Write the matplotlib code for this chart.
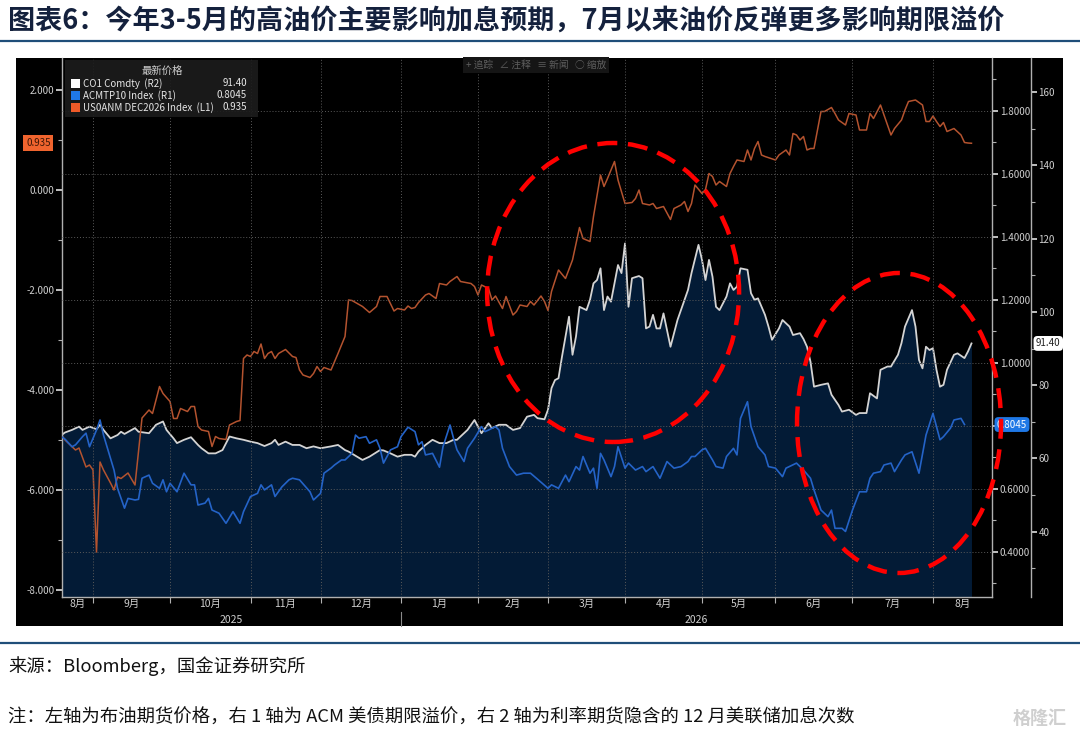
import numpy as np
import matplotlib
matplotlib.use('Agg')
import matplotlib.pyplot as plt
from matplotlib.patches import Rectangle, Ellipse
from matplotlib.lines import Line2D
from matplotlib.ticker import FixedLocator, FuncFormatter, NullFormatter
from matplotlib.transforms import blended_transform_factory

plt.rcParams['font.family'] = ['Noto Sans CJK SC', 'DejaVu Sans']

# x values are trading days counted from 2025-09-01 (Bloomberg-style business-day axis)
START = '2025-09-01'

# US0ANM DEC2026 Index (L1): implied number of hikes by Dec 2026
us0anm = [
    (-9, -4.90), (-8, -5.00), (-5, -5.20), (-4, -5.16), (-2, -5.54), (-1, -5.50), (0, -5.60),
    (1, -7.24), (2, -5.44), (3, -5.60), (5, -5.86), (6, -6.00), (7, -5.74), (8, -5.77),
    (10, -5.66), (12, -5.90), (14, -4.56), (16, -4.40), (17, -4.47), (19, -3.93), (20, -4.07),
    (22, -4.23), (23, -4.57), (24, -4.57), (25, -4.37), (27, -4.43), (28, -4.33), (29, -4.33),
    (30, -4.73), (31, -4.80), (33, -4.83), (34, -5.13), (35, -4.93), (36, -4.97), (38, -4.99),
    (39, -4.70), (41, -4.63), (42, -4.61), (43, -3.37), (44, -3.30), (45, -3.33), (46, -3.23),
    (47, -3.27), (48, -3.08), (49, -3.37), (50, -3.27), (51, -3.23), (52, -3.37), (53, -3.27),
    (55, -3.19), (57, -3.33), (58, -3.35), (59, -3.60), (60, -3.70), (62, -3.75), (63, -3.67),
    (64, -3.53), (65, -3.63), (66, -3.55), (68, -3.60), (70, -3.27), (72, -2.93), (73, -2.20),
    (74, -2.21), (77, -2.33), (79, -2.45), (81, -2.33), (82, -2.13), (84, -2.13), (86, -2.42),
    (87, -2.37), (89, -2.40), (90, -2.32), (91, -2.37), (92, -2.35), (93, -2.25), (95, -2.10),
    (96, -2.07), (98, -2.17), (99, -1.87), (101, -1.90), (102, -1.83), (104, -1.73), (105, -1.83),
    (108, -1.87), (109, -1.93), (110, -2.10), (111, -1.90), (113, -1.97), (114, -2.20), (115, -2.12),
    (117, -2.37), (118, -2.13), (120, -2.50), (121, -2.43), (122, -2.30), (124, -2.33), (125, -2.23),
    (126, -2.30), (128, -2.12), (129, -2.23), (130, -2.41), (131, -2.03), (133, -1.60), (135, -1.77),
    (137, -1.40), (139, -0.75), (140, -0.97), (142, -1.03), (143, -0.53), (145, 0.30), (146, 0.07),
    (147, 0.23), (149, 0.57), (150, 0.20), (152, -0.27), (154, -0.25), (155, -0.17), (156, 0.00),
    (157, -0.27), (159, -0.30), (160, -0.27), (161, -0.37), (163, -0.33), (165, -0.59), (166, -0.37),
    (168, -0.30), (169, -0.23), (170, -0.43), (171, -0.27), (172, 0.10), (174, -0.07), (175, 0.01),
    (176, 0.33), (177, 0.27), (178, 0.10), (179, 0.17), (181, 0.07), (182, 0.33), (183, 0.47),
    (184, 0.60), (186, 0.57), (187, 0.80), (188, 0.60), (189, 0.83), (190, 0.97), (191, 0.70),
    (192, 0.67), (195, 0.60), (196, 0.70), (198, 0.80), (199, 0.70), (200, 1.13), (201, 1.10),
    (202, 1.00), (203, 1.07), (204, 0.80), (205, 0.83), (206, 0.83), (208, 1.57), (209, 1.57),
    (211, 1.65), (212, 1.53), (213, 1.40), (215, 1.30), (216, 1.53), (218, 1.50), (219, 1.20),
    (221, 1.20), (222, 1.53), (223, 1.43), (225, 1.70), (227, 1.30), (228, 1.10), (229, 1.23),
    (231, 1.40), (232, 1.60), (233, 1.77), (235, 1.80), (237, 1.70), (238, 1.37), (239, 1.37),
    (240, 1.48), (241, 1.37), (242, 1.27), (243, 1.35), (244, 1.17), (246, 1.23), (248, 1.10),
    (249, 0.95), (250, 0.94), (251, 0.935),
]

# CO1 Comdty (R2): Brent front month
co1 = [
    (-9, 66.4), (-8, 67.1), (-6, 67.8), (-4, 68.7), (-3, 67.8), (-1, 68.7), (1, 68.0), (2, 69.2),
    (3, 67.8), (5, 65.5), (7, 66.4), (8, 67.3), (9, 66.7), (12, 68.3), (13, 67.3), (16, 66.9),
    (18, 69.2), (20, 70.1), (21, 67.8), (23, 65.5), (24, 64.2), (26, 65.1), (28, 65.8), (30, 63.7),
    (31, 62.8), (33, 61.4), (35, 61.4), (37, 62.3), (39, 66.0), (41, 65.5), (43, 65.1), (45, 64.6),
    (47, 64.2), (49, 63.4), (51, 64.2), (52, 65.1), (53, 63.7), (55, 64.6), (57, 63.7), (59, 63.7),
    (61, 62.8), (63, 63.3), (65, 62.8), (68, 63.3), (70, 63.7), (72, 62.3), (73, 61.9), (77, 59.6),
    (79, 60.5), (82, 62.3), (83, 62.2), (85, 61.4), (87, 60.5), (89, 61.0), (91, 61.0), (92, 60.5),
    (93, 61.9), (95, 63.7), (97, 65.1), (99, 64.2), (101, 64.2), (103, 65.1), (104, 65.1), (107, 67.8),
    (109, 70.5), (111, 66.9), (113, 69.6), (114, 68.3), (116, 69.2), (118, 69.2), (120, 67.8),
    (122, 68.3), (124, 71.4), (126, 71.9), (127, 71.0), (129, 70.7), (130, 73.3), (131, 79.2),
    (132, 81.4), (133, 81.9), (134, 87.8), (136, 98.7), (137, 88.3), (138, 93.3), (139, 101.4),
    (141, 100.5), (142, 103.3), (143, 107.8), (144, 108.7), (145, 111.9), (146, 100.5), (147, 104.2),
    (148, 102.8), (150, 112.8), (151, 110.6), (152, 118.7), (153, 101.4), (154, 109.2), (156, 109.8),
    (157, 109.2), (158, 95.5), (159, 96.0), (160, 99.2), (161, 95.5), (162, 95.5), (163, 99.6),
    (165, 90.5), (167, 97.8), (169, 103.3), (170, 106.0), (171, 110.6), (173, 118.3), (174, 114.2),
    (175, 108.7), (176, 114.2), (177, 109.6), (178, 101.4), (179, 100.5), (181, 104.2), (182, 107.8),
    (183, 106.0), (184, 106.9), (185, 111.9), (187, 111.5), (188, 105.1), (189, 103.3), (190, 103.7),
    (192, 99.2), (193, 96.0), (194, 92.4), (196, 95.5), (197, 97.8), (199, 96.0), (200, 93.7),
    (202, 94.2), (203, 92.6), (204, 90.5), (205, 86.4), (206, 79.6), (208, 80.1), (210, 80.5),
    (211, 77.4), (213, 74.6), (214, 72.8), (216, 73.3), (218, 71.9), (219, 72.4), (221, 72.4),
    (222, 77.8), (224, 76.4), (225, 84.2), (227, 85.1), (228, 85.1), (230, 88.3), (231, 91.5),
    (232, 96.0), (234, 100.5), (235, 96.0), (236, 86.9), (237, 84.6), (238, 90.5), (239, 89.6),
    (240, 90.1), (241, 84.2), (242, 79.6), (243, 80.1), (244, 84.2), (246, 88.3), (247, 88.7),
    (249, 87.4), (250, 89.2), (251, 91.4),
]

# ACMTP10 Index (R1): ACM 10y term premium
acmtp10 = [
    (-9, 0.766), (-8, 0.758), (-6, 0.734), (-5, 0.740), (-3, 0.766), (-2, 0.777), (-1, 0.734),
    (1, 0.787), (2, 0.819), (3, 0.771), (4, 0.734), (6, 0.660), (7, 0.602), (9, 0.539), (10, 0.570),
    (12, 0.565), (13, 0.567), (14, 0.634), (16, 0.644), (17, 0.618), (19, 0.602), (20, 0.629),
    (21, 0.591), (22, 0.618), (24, 0.591), (26, 0.650), (28, 0.613), (29, 0.613), (30, 0.549),
    (32, 0.555), (33, 0.570), (34, 0.533), (36, 0.523), (38, 0.491), (40, 0.528), (42, 0.491),
    (43, 0.528), (45, 0.576), (47, 0.586), (48, 0.613), (49, 0.597), (51, 0.613), (52, 0.576),
    (54, 0.607), (56, 0.629), (57, 0.634), (59, 0.629), (62, 0.591), (63, 0.565), (65, 0.586),
    (66, 0.650), (68, 0.666), (69, 0.676), (71, 0.692), (72, 0.692), (74, 0.713), (75, 0.771),
    (76, 0.761), (78, 0.766), (79, 0.745), (81, 0.756), (82, 0.729), (83, 0.682), (85, 0.724),
    (87, 0.734), (88, 0.766), (90, 0.796), (92, 0.782), (93, 0.740), (94, 0.750), (95, 0.708),
    (97, 0.713), (99, 0.669), (100, 0.734), (102, 0.803), (103, 0.761), (104, 0.724), (106, 0.687),
    (107, 0.729), (109, 0.761), (111, 0.798), (112, 0.782), (113, 0.787), (115, 0.798), (116, 0.787),
    (117, 0.729), (119, 0.671), (121, 0.644), (123, 0.650), (125, 0.650), (127, 0.631), (130, 0.602),
    (131, 0.613), (133, 0.602), (135, 0.644), (136, 0.623), (138, 0.671), (139, 0.660), (140, 0.703),
    (142, 0.650), (143, 0.666), (144, 0.602), (145, 0.713), (146, 0.692), (148, 0.639), (149, 0.671),
    (150, 0.734), (152, 0.666), (153, 0.682), (155, 0.660), (157, 0.671), (158, 0.655), (160, 0.671),
    (162, 0.634), (164, 0.687), (166, 0.666), (168, 0.671), (170, 0.687), (171, 0.703), (172, 0.703),
    (174, 0.724), (175, 0.729), (177, 0.692), (178, 0.671), (180, 0.666), (181, 0.703), (183, 0.729),
    (184, 0.708), (185, 0.824), (187, 0.877), (188, 0.798), (190, 0.734), (192, 0.708), (193, 0.671),
    (195, 0.666), (197, 0.639), (198, 0.666), (201, 0.682), (202, 0.671), (203, 0.660), (205, 0.634),
    (206, 0.597), (208, 0.533), (210, 0.512), (211, 0.533), (212, 0.475), (214, 0.475), (215, 0.465),
    (217, 0.533), (219, 0.591), (221, 0.591), (222, 0.634), (223, 0.650), (225, 0.655), (226, 0.676),
    (228, 0.682), (229, 0.655), (231, 0.692), (232, 0.708), (234, 0.718), (236, 0.650), (238, 0.771),
    (240, 0.840), (242, 0.756), (243, 0.766), (245, 0.793), (246, 0.819), (248, 0.824), (249, 0.8045),
]

month_starts = ['2025-09-01', '2025-10-01', '2025-11-01', '2025-12-01', '2026-01-01', '2026-02-01',
                '2026-03-01', '2026-04-01', '2026-05-01', '2026-06-01', '2026-07-01', '2026-08-01']
month_labels = ['8月', '9月', '10月', '11月', '12月', '1月', '2月', '3月', '4月', '5月', '6月', '7月', '8月']
year_labels = ['2025', '2026']

left_ticks = [-8, -6, -4, -2, 0, 2]
left_minor = [-7, -5, -3, -1, 1]
r1_ticks = [0.4, 0.6, 0.8, 1.0, 1.2, 1.4, 1.6, 1.8]
r1_minor = [0.3, 0.5, 0.7, 0.9, 1.1, 1.3, 1.5, 1.7, 1.9]
r2_ticks = [40, 60, 80, 100, 120, 140, 160]
r2_minor = [30, 50, 70, 90, 110, 130, 150]

legend_rows = [('CO1 Comdty  (R2)', '91.40'),
               ('ACMTP10 Index  (R1)', '0.8045'),
               ('US0ANM DEC2026 Index  (L1)', '0.935')]
last_co1, last_acm, last_us0 = 91.40, 0.8045, 0.935

title = '图表6：今年3-5月的高油价主要影响加息预期，7月以来油价反弹更多影响期限溢价'
source = '来源：Bloomberg，国金证券研究所'
note = '注：左轴为布油期货价格，右 1 轴为 ACM 美债期限溢价，右 2 轴为利率期货隐含的 12 月美联储加息次数'

C_ORANGE = '#b4532f'
C_WHITE = '#d4d4d4'
C_BLUE = '#2463c7'
C_FILL = '#031b36'
C_GRID = '#5a5a5a'
C_TICK = '#cfcfcf'
C_SPINE = '#b0b0b0'

W, H = 1080, 738


def fx(x):
    return x / W


def fy(y):
    return 1 - y / H


fig = plt.figure(figsize=(W / 100, H / 100), dpi=100)
fig.patch.set_facecolor('white')

# black Bloomberg panel
fig.add_artist(Rectangle((fx(16), fy(626)), fx(1063) - fx(16), fy(58) - fy(626),
                         transform=fig.transFigure, facecolor='black', edgecolor='none', zorder=-1))

ax = fig.add_axes([fx(62), fy(597), fx(992) - fx(62), fy(58) - fy(597)])
ax2 = ax.twinx()
ax3 = ax.twinx()
ax3.set_zorder(0)
ax.set_zorder(1)
ax2.set_zorder(2)
ax.patch.set_visible(False)
ax2.patch.set_visible(False)
ax3.patch.set_visible(True)
ax3.patch.set_facecolor('black')

o_td, o_val = zip(*us0anm)
c_td, c_val = zip(*co1)
a_td, a_val = zip(*acmtp10)

ax.set_ylim(-8.14, 2.64)
ax2.set_ylim(0.257, 1.968)
ax3.set_ylim(22.2, 169.3)

ax3.fill_between(c_td, c_val, 0, color=C_FILL, lw=0, zorder=1)
ax3.plot(c_td, c_val, color=C_WHITE, lw=1.3, zorder=2)
ax.plot(o_td, o_val, color=C_ORANGE, lw=1.1, zorder=2)
ax2.plot(a_td, a_val, color=C_BLUE, lw=1.2, zorder=3)

month_td = np.busday_count(START, month_starts)
xmin, xmax = -8.86, 256.86
ax.set_xlim(xmin, xmax)

# dotted grid: months vertically, R1 ticks horizontally
for t in month_td:
    ax2.axvline(t, color=C_GRID, lw=0.7, ls=(0, (1, 2)), zorder=1)
for t in r1_ticks:
    ax2.axhline(t, color=C_GRID, lw=0.7, ls=(0, (1, 2)), zorder=1)

# x axis: ticks at month starts, labels centred within each month
edges = np.concatenate([[xmin], month_td, [xmax]])
centres = (edges[:-1] + edges[1:]) / 2
ax.xaxis.set_major_locator(FixedLocator(month_td))
ax.xaxis.set_major_formatter(NullFormatter())
ax.xaxis.set_minor_locator(FixedLocator(centres))
ax.set_xticklabels(month_labels, minor=True)
ax.tick_params(axis='x', which='major', length=4, width=0.8, color=C_SPINE, direction='out')
ax.tick_params(axis='x', which='minor', length=0, pad=1.5, labelsize=7.5, labelcolor=C_TICK)

xt = blended_transform_factory(ax.transData, ax.transAxes)
year_split = np.busday_count(START, '2026-01-01')
for lab, cx in zip(year_labels, [(xmin + year_split) / 2, (year_split + xmax) / 2]):
    ax.text(cx, -0.043, lab, transform=xt, ha='center', va='center', fontsize=7.5, color=C_TICK)
ax.plot([year_split, year_split], [-0.027, -0.053], transform=xt, color='#8a8a8a', lw=0.8, clip_on=False)

# y axes (the R1 0.8000 label sits under the live-value tag)
ax.yaxis.set_major_locator(FixedLocator(left_ticks))
ax.yaxis.set_minor_locator(FixedLocator(left_minor))
ax.yaxis.set_major_formatter(FuncFormatter(lambda v, p: f'{v:.3f}'))
ax2.yaxis.set_major_locator(FixedLocator(r1_ticks))
ax2.yaxis.set_minor_locator(FixedLocator(r1_minor))
ax2.yaxis.set_major_formatter(FuncFormatter(lambda v, p: '' if abs(v - 0.8) < 1e-9 else f'{v:.4f}'))
ax3.yaxis.set_major_locator(FixedLocator(r2_ticks))
ax3.yaxis.set_minor_locator(FixedLocator(r2_minor))
ax3.yaxis.set_major_formatter(FuncFormatter(lambda v, p: f'{v:.0f}'))
for a in (ax, ax2, ax3):
    a.tick_params(axis='y', which='major', length=4, width=1.2, color='#e0e0e0', pad=1.5,
                  labelsize=7, labelcolor=C_TICK)
    a.tick_params(axis='y', which='minor', length=3, width=0.8, color=C_SPINE)
    for s in a.spines.values():
        s.set_visible(False)
        s.set_color(C_SPINE)
        s.set_linewidth(1.0)
ax.spines['left'].set_visible(True)
ax.spines['bottom'].set_visible(True)
ax2.spines['right'].set_visible(True)
ax3.spines['right'].set_visible(True)
ax3.spines['right'].set_position(('outward', 28))

# last-value tags
yt1 = blended_transform_factory(ax.transAxes, ax.transData)
ax.text(-0.0255, last_us0, f'{last_us0:.3f}', transform=yt1, ha='center', va='center', fontsize=7,
        color='#3b1606', clip_on=False,
        bbox=dict(boxstyle='square,pad=0.3', fc='#f0642e', ec='none'))
yt2 = blended_transform_factory(ax2.transAxes, ax2.transData)
ax2.text(1.0215, last_acm, f'{last_acm:.4f}', transform=yt2, ha='center', va='center', fontsize=7,
         color='white', clip_on=False,
         bbox=dict(boxstyle='round,pad=0.25,rounding_size=0.4', fc='#1f78e6', ec='none'))
yt3 = blended_transform_factory(ax3.transAxes, ax3.transData)
ax3.text(1.0605, last_co1, f'{last_co1:.2f}', transform=yt3, ha='center', va='center', fontsize=7,
         color='#222222', clip_on=False,
         bbox=dict(boxstyle='round,pad=0.25,rounding_size=0.4', fc='white', ec='none'))

# legend box (Bloomberg "最新价格")
fig.add_artist(Rectangle((fx(65), fy(117)), fx(258) - fx(65), fy(60) - fy(117),
                         transform=fig.transFigure, facecolor='#1c1c1c', edgecolor='none',
                         alpha=0.9, zorder=5))
fig.text(fx(162), fy(71), '最新价格', ha='center', va='center', fontsize=7.5, color=C_TICK, zorder=6)
for i, ((name, val), col) in enumerate(zip(legend_rows, ['white', '#1f78e6', '#f05a28'])):
    yy = 83.5 + 12 * i
    fig.add_artist(Rectangle((fx(70.5), fy(yy + 4.5)), fx(9.5), fy(0) - fy(9), transform=fig.transFigure,
                             facecolor=col, edgecolor='none', zorder=6))
    fig.text(fx(83), fy(yy), name, ha='left', va='center', fontsize=7, color='#e6e6e6', zorder=6)
    fig.text(fx(247), fy(yy), val, ha='right', va='center', fontsize=7, color='#e6e6e6', zorder=6)

# toolbar strip
fig.text(fx(536), fy(65), '+ 追踪   ∠ 注释   ≡ 新闻   ○ 缩放', ha='center', va='center', fontsize=7,
         color='#5e5e5e', zorder=6,
         bbox=dict(boxstyle='square,pad=0.3', fc='#151515', ec='none'))

# red dashed highlight ellipses
for cx, cy, w, h in [(148.6, -2.05, 72.0, 5.98), (230.3, -4.66, 58.3, 6.0)]:
    fig.add_artist(Ellipse((cx, cy), w, h, transform=ax.transData, fill=False, edgecolor='#ff0000',
                           lw=3.2, ls=(0, (4.5, 2.4)), zorder=10))

# report frame: title, rules, source and note
fig.text(fx(8), fy(21), title, ha='left', va='center', fontsize=19.5, fontweight='bold', color='#14213d')
fig.add_artist(Line2D([0, 1], [fy(41), fy(41)], transform=fig.transFigure, color='#1f4e79', lw=1.6))
fig.add_artist(Line2D([0, 1], [fy(643), fy(643)], transform=fig.transFigure, color='#1f4e79', lw=1.6))
fig.text(fx(8), fy(666), source, ha='left', va='center', fontsize=13.2, color='#111111')
fig.text(fx(8), fy(718), note, ha='left', va='center', fontsize=13.2, color='#111111')
fig.text(fx(1040), fy(718), '格隆汇', ha='center', va='center', fontsize=13, fontweight='bold',
         color='#cfcfcf')

fig.savefig('out.png', dpi=100)
